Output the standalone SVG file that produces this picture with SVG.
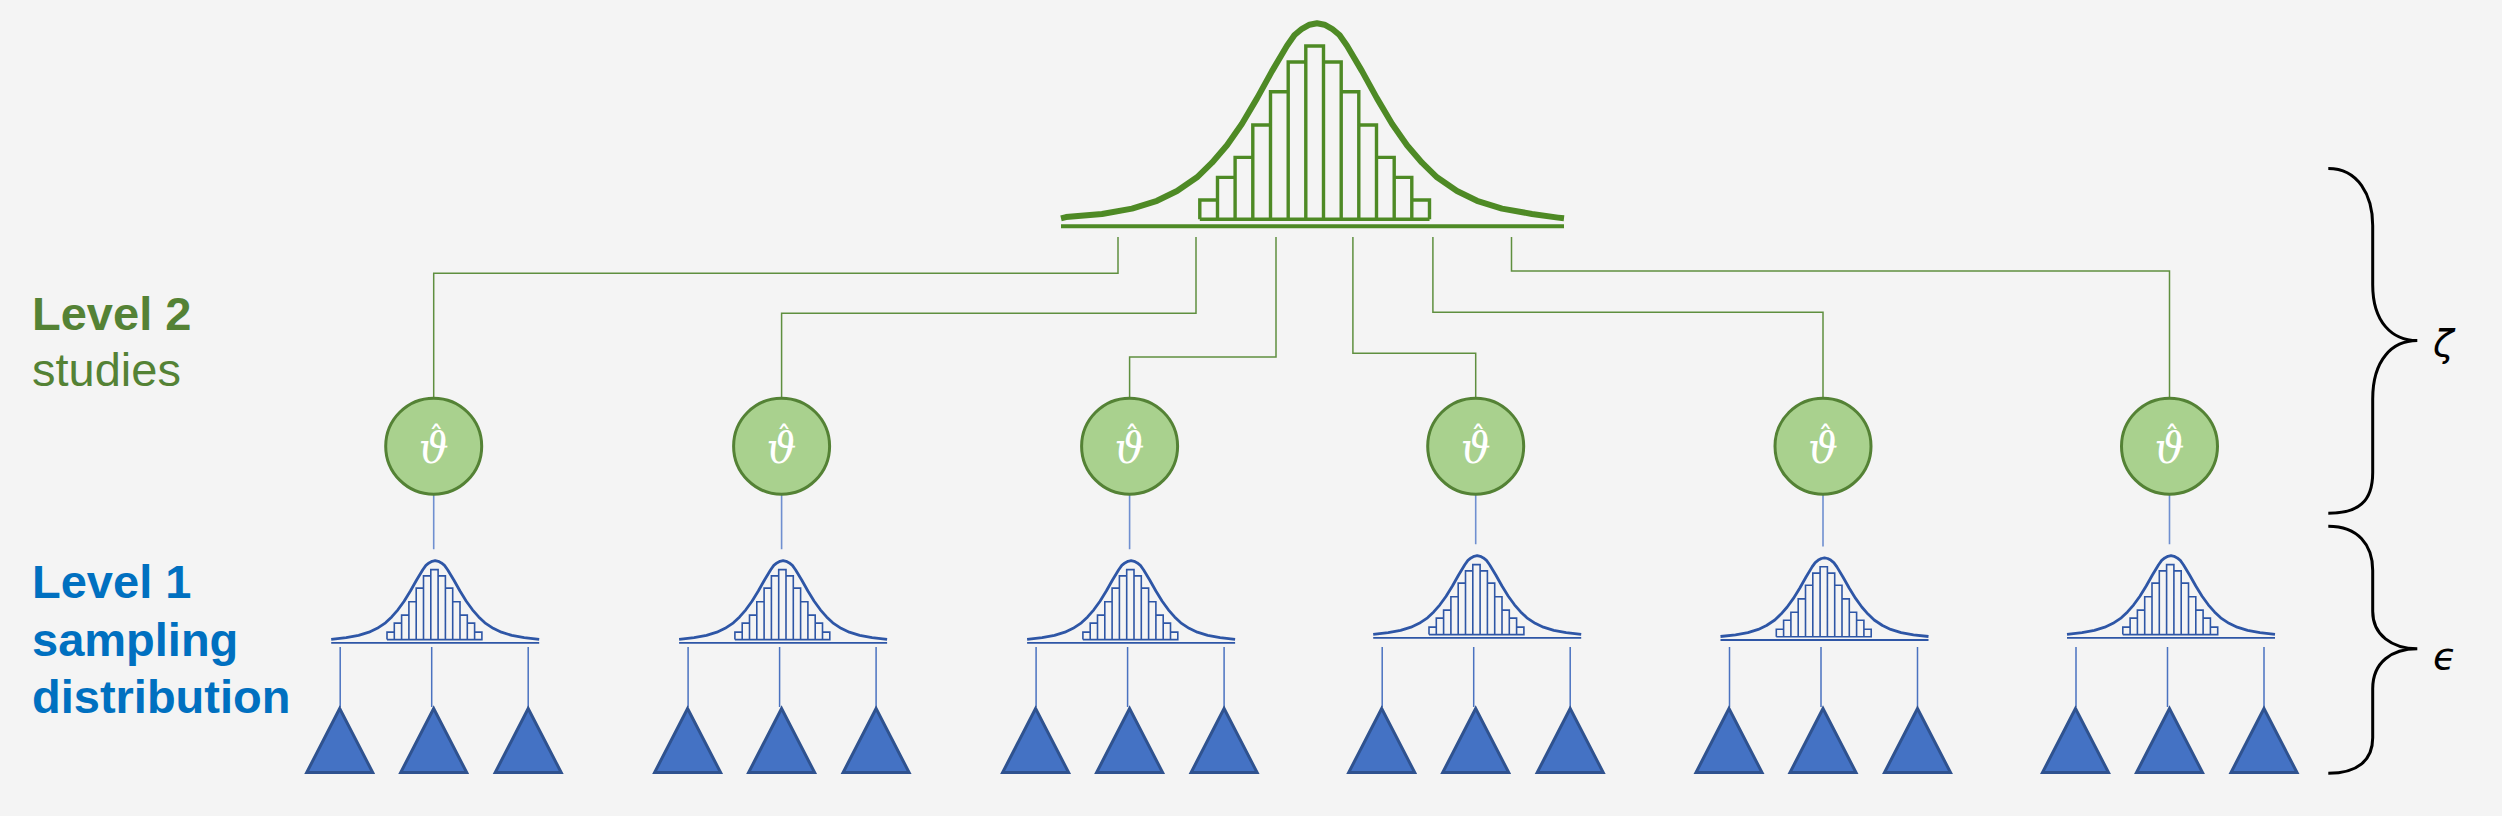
<svg xmlns="http://www.w3.org/2000/svg" xmlns:xlink="http://www.w3.org/1999/xlink" width="2502" height="816" viewBox="0 0 2502 816">
<style>
.bg{fill:#F4F4F4}
.conn{fill:none;stroke:#5F8F3F;stroke-width:1.5}
.bline{fill:none;stroke:#6F8FD0;stroke-width:1.6}
.tline{fill:none;stroke:#4A72C0;stroke-width:1.5}
.circ{fill:#A9D18E;stroke:#548235;stroke-width:3}
.theta{font-family:"DejaVu Serif",serif;font-style:italic;font-size:42px;fill:#FFFFFF;text-anchor:middle}
.hat{font-family:"DejaVu Sans",sans-serif;font-style:normal;font-size:30px}
.gcurve{fill:none;stroke:#4E8A25;stroke-width:6;stroke-linejoin:round}
.gbar{fill:none;stroke:#4E8A25;stroke-width:3.4}
.bcurve{fill:none;stroke:#2E56A6;stroke-width:2.8;stroke-linejoin:round}
.bbar{fill:none;stroke:#2E56A6;stroke-width:1.6}
.tri{fill:#4472C4;stroke:#2F528F;stroke-width:3;stroke-linejoin:miter}
.brace{fill:none;stroke:#000000;stroke-width:3}
.greek{font-family:"DejaVu Sans",sans-serif;font-style:italic;font-size:38px;fill:#000000}
.lbl{font-family:"Liberation Sans",Arial,sans-serif;font-size:47px}
.g{fill:#548235}
.b{fill:#0070C0}
</style>
<defs>
<g id="dist">
<path class="bcurve" d="M-104 0 L-89 -1.7 L-76.6 -3.9 L-66.2 -7.1 L-58 -11 L-49.7 -16.5 L-43.5 -22.4 L-37.3 -29.5 L-31.1 -38.1 L-24.8 -48.3 L-18.6 -59.3 L-12.4 -69.6 L-9.3 -73.9 L-6.2 -76.4 L-3.1 -78 L0 -78.6 L3.1 -78 L6.2 -76.4 L9.3 -73.9 L12.4 -69.6 L18.6 -59.3 L24.8 -48.3 L31.1 -38.1 L37.3 -29.5 L43.5 -22.4 L49.7 -16.5 L58 -11 L66.2 -7.1 L76.6 -3.9 L89 -1.7 L104 0"/>
<path class="bbar" d="M-48.2 0.3 V-7.2 H-40.9 V0.3 M-40.9 0.3 V-16.2 H-33.6 V0.3 M-33.6 0.3 V-24.2 H-26.3 V0.3 M-26.3 0.3 V-37.6 H-19 V0.3 M-19 0.3 V-51.2 H-11.7 V0.3 M-11.7 0.3 V-63.4 H-4.4 V0.3 M-4.4 0.3 V-69.7 H2.9 V0.3 M2.9 0.3 V-63.4 H10.2 V0.3 M10.2 0.3 V-51.2 H17.5 V0.3 M17.5 0.3 V-37.6 H24.8 V0.3 M24.8 0.3 V-24.2 H32.1 V0.3 M32.1 0.3 V-16.2 H39.4 V0.3 M39.4 0.3 V-7.2 H46.7 V0.3 Z M-48.2 0.3 H46.7"/>
<line x1="-104" y1="3.5" x2="104" y2="3.5" stroke="#2E56A6" stroke-width="1.8"/>
</g>
<polygon id="tri" class="tri" points="0,708.5 -33,772.5 33,772.5"/>
</defs>
<rect class="bg" x="0" y="0" width="2502" height="816"/>

<g id="top-distribution">
<path class="gcurve" d="M1061 218.3 L1066 217.1 L1102 214 L1132 208.6 L1157 200.8 L1177 191 L1197 177.3 L1212 162.7 L1227 145.2 L1242 123.7 L1257 98.4 L1272 71.1 L1287 45.7 L1294.5 35 L1302 28.8 L1309.5 24.7 L1317 23.3 L1324.5 24.7 L1332 28.8 L1339.5 35 L1347 45.7 L1362 71.1 L1377 98.4 L1392 123.7 L1407 145.2 L1422 162.7 L1437 177.3 L1457 191 L1477 200.8 L1502 208.6 L1532 214 L1558 217.6 L1564 218.3"/>
<path class="gbar" d="M1199.8 219.3 V200 H1217.5 V219.3 M1217.5 219.3 V177.4 H1235.1 V219.3 M1235.1 219.3 V157.4 H1252.8 V219.3 M1252.8 219.3 V125 H1270.5 V219.3 M1270.5 219.3 V91.7 H1288.2 V219.3 M1288.2 219.3 V62 H1305.8 V219.3 M1305.8 219.3 V46 H1323.5 V219.3 M1323.5 219.3 V62 H1341.2 V219.3 M1341.2 219.3 V91.7 H1358.8 V219.3 M1358.8 219.3 V125 H1376.5 V219.3 M1376.5 219.3 V157.4 H1394.2 V219.3 M1394.2 219.3 V177.4 H1411.8 V219.3 M1411.8 219.3 V200 H1429.5 V219.3 M1199.8 219.3 H1429.5"/>
<line x1="1061" y1="226.3" x2="1564" y2="226.3" stroke="#4E8A25" stroke-width="4"/>
</g>

<g id="connectors">
<path class="conn" d="M1118 237 V273.3 H433.7 V397.5"/>
<path class="conn" d="M1196 237 V313.3 H781.6 V397.5"/>
<path class="conn" d="M1276 237 V357 H1129.6 V397.5"/>
<path class="conn" d="M1352.9 237 V353.3 H1475.7 V397.5"/>
<path class="conn" d="M1432.9 237 V312.3 H1823 V397.5"/>
<path class="conn" d="M1511.5 237 V271 H2169.5 V397.5"/>
<path class="bline" d="M433.7 495 V549.3 M781.6 495 V549.3 M1129.6 495 V549.3 M1475.7 495 V544.3 M1823 495 V546.5 M2169.5 495 V544.3"/>
<path class="tline" d="M340.2 647 V707 M431.7 647 V707 M528.2 647 V707 M688.1 647 V707 M779.6 647 V707 M876.1 647 V707 M1036.1 647 V707 M1127.6 647 V707 M1224.1 647 V707 M1382.2 647 V707 M1473.7 647 V707 M1570.2 647 V707 M1729.5 647 V707 M1821 647 V707 M1917.5 647 V707 M2076 647 V707 M2167.5 647 V707 M2264 647 V707"/>
</g>

<g id="study-1">
<circle class="circ" cx="433.7" cy="446.2" r="48"/>
<text class="theta" x="433.7" y="463">ϑ<tspan class="hat" x="436.2" y="448">ˆ</tspan></text>
</g>
<g id="study-2">
<circle class="circ" cx="781.6" cy="446.2" r="48"/>
<text class="theta" x="781.6" y="463">ϑ<tspan class="hat" x="784.1" y="448">ˆ</tspan></text>
</g>
<g id="study-3">
<circle class="circ" cx="1129.6" cy="446.2" r="48"/>
<text class="theta" x="1129.6" y="463">ϑ<tspan class="hat" x="1132.1" y="448">ˆ</tspan></text>
</g>
<g id="study-4">
<circle class="circ" cx="1475.7" cy="446.2" r="48"/>
<text class="theta" x="1475.7" y="463">ϑ<tspan class="hat" x="1478.2" y="448">ˆ</tspan></text>
</g>
<g id="study-5">
<circle class="circ" cx="1823" cy="446.2" r="48"/>
<text class="theta" x="1823" y="463">ϑ<tspan class="hat" x="1825.5" y="448">ˆ</tspan></text>
</g>
<g id="study-6">
<circle class="circ" cx="2169.5" cy="446.2" r="48"/>
<text class="theta" x="2169.5" y="463">ϑ<tspan class="hat" x="2172" y="448">ˆ</tspan></text>
</g>

<g id="sampling-1"><use xlink:href="#dist" href="#dist" transform="translate(435.2 639.3)"/></g>
<g id="sampling-2"><use xlink:href="#dist" href="#dist" transform="translate(783.1 639.3)"/></g>
<g id="sampling-3"><use xlink:href="#dist" href="#dist" transform="translate(1131.1 639.3)"/></g>
<g id="sampling-4"><use xlink:href="#dist" href="#dist" transform="translate(1477.2 634.3)"/></g>
<g id="sampling-5"><use xlink:href="#dist" href="#dist" transform="translate(1824.5 636.5)"/></g>
<g id="sampling-6"><use xlink:href="#dist" href="#dist" transform="translate(2171 634.3)"/></g>

<g id="samples-1">
<use xlink:href="#tri" href="#tri" transform="translate(339.7 0)"/>
<use xlink:href="#tri" href="#tri" transform="translate(433.7 0)"/>
<use xlink:href="#tri" href="#tri" transform="translate(528.2 0)"/>
</g>
<g id="samples-2">
<use xlink:href="#tri" href="#tri" transform="translate(687.6 0)"/>
<use xlink:href="#tri" href="#tri" transform="translate(781.6 0)"/>
<use xlink:href="#tri" href="#tri" transform="translate(876.1 0)"/>
</g>
<g id="samples-3">
<use xlink:href="#tri" href="#tri" transform="translate(1035.6 0)"/>
<use xlink:href="#tri" href="#tri" transform="translate(1129.6 0)"/>
<use xlink:href="#tri" href="#tri" transform="translate(1224.1 0)"/>
</g>
<g id="samples-4">
<use xlink:href="#tri" href="#tri" transform="translate(1381.7 0)"/>
<use xlink:href="#tri" href="#tri" transform="translate(1475.7 0)"/>
<use xlink:href="#tri" href="#tri" transform="translate(1570.2 0)"/>
</g>
<g id="samples-5">
<use xlink:href="#tri" href="#tri" transform="translate(1729 0)"/>
<use xlink:href="#tri" href="#tri" transform="translate(1823 0)"/>
<use xlink:href="#tri" href="#tri" transform="translate(1917.5 0)"/>
</g>
<g id="samples-6">
<use xlink:href="#tri" href="#tri" transform="translate(2075.5 0)"/>
<use xlink:href="#tri" href="#tri" transform="translate(2169.5 0)"/>
<use xlink:href="#tri" href="#tri" transform="translate(2264 0)"/>
</g>

<g id="label-level2">
<text class="lbl g" x="32" y="330" font-weight="bold" font-size="48">Level 2</text>
<text class="lbl g" x="32" y="386">studies</text>
</g>
<g id="label-level1">
<text class="lbl b" x="32" y="598" font-weight="bold">Level 1</text>
<text class="lbl b" x="32" y="656" font-weight="bold">sampling</text>
<text class="lbl b" x="32" y="713" font-weight="bold">distribution</text>
</g>

<g id="brace-zeta">
<path class="brace" d="M2328.3 168.4 C2358 168.4 2372.7 195 2372.7 225.5 V284.7 C2372.7 322 2392 340.6 2417.3 340.6 C2392 340.6 2372.7 360 2372.7 399 V472.4 C2372.7 502 2358 513.3 2328.3 513.3"/>
<text class="greek" x="2433" y="356">ζ</text>
</g>
<g id="brace-epsilon">
<path class="brace" d="M2328.3 526.3 C2358 526.3 2372.7 545 2372.7 570.4 V611.2 C2372.7 635 2392 648.8 2417.3 648.8 C2392 648.8 2372.7 662 2372.7 688.8 V737.8 C2372.7 760 2358 773.3 2328.3 773.3"/>
<text class="greek" x="2433" y="669" font-size="36">ϵ</text>
</g>
</svg>
